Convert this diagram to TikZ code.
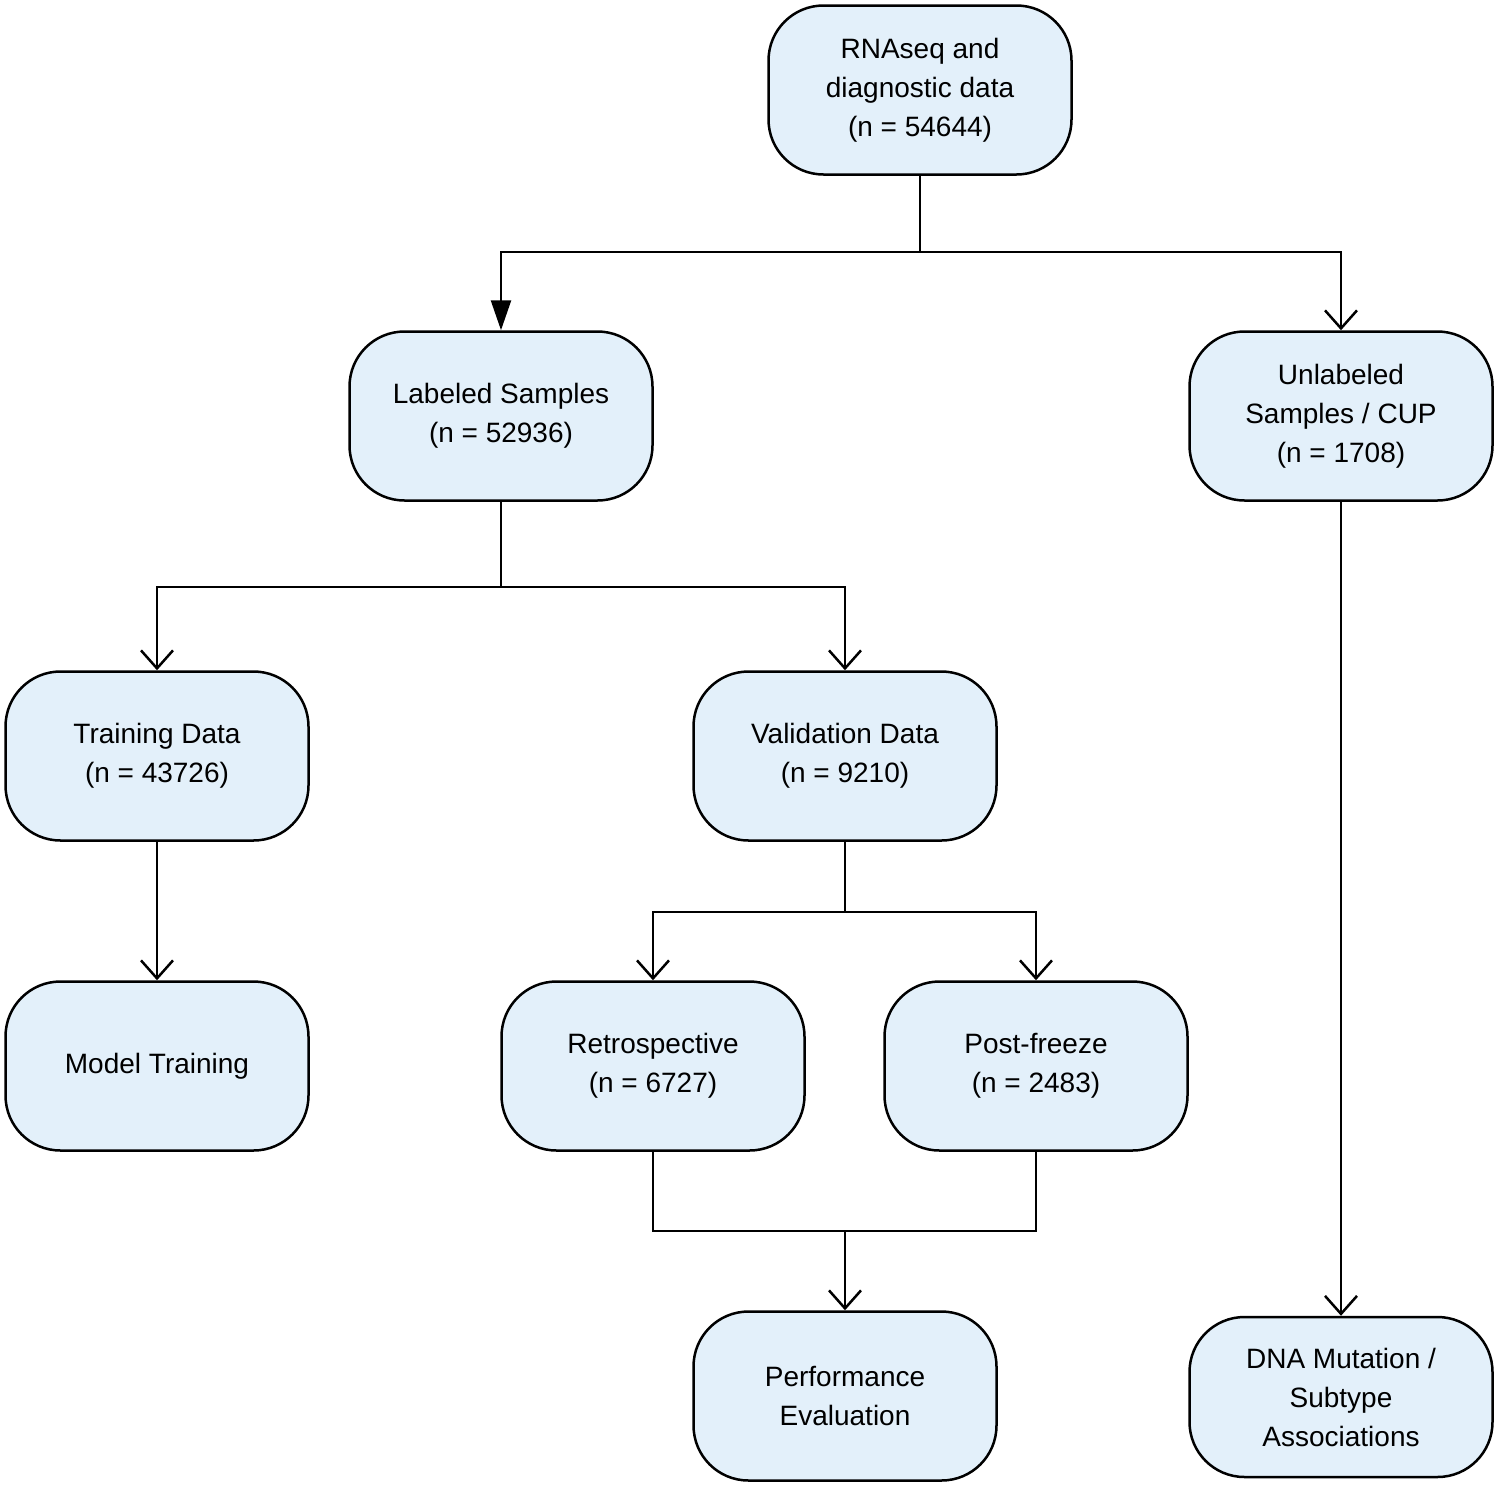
\documentclass[tikz,border=0pt]{standalone}
\usepackage{fontspec}
\setmainfont{Liberation Sans}
\usetikzlibrary{arrows.meta}
\definecolor{boxfill}{HTML}{E3F0FA}
\begin{document}
\begin{tikzpicture}[x=1pt,y=-1pt,
  box/.style={draw=black,line width=2.5pt,fill=boxfill,rounded corners=55pt,minimum width=303pt,minimum height=169pt,align=center,font=\fontsize{28}{39}\selectfont,inner sep=0pt},
  ln/.style={line width=2.5pt},
  va/.style={ln,-{Straight Barb[length=18pt,width=32pt,line width=2.5pt]}},
  fa/.style={ln,-{Triangle[length=30pt,width=20pt]}}]
\useasboundingbox (0,0) rectangle (1499,1489);
\node[box] (top) at (920,90) {RNAseq and\\diagnostic data\\(n = 54644)};
\node[box] (lab) at (501,416) {Labeled Samples\\(n = 52936)};
\node[box] (unl) at (1341,416) {Unlabeled\\Samples / CUP\\(n = 1708)};
\node[box] (tr) at (157,756) {Training Data\\(n = 43726)};
\node[box] (val) at (845,756) {Validation Data\\(n = 9210)};
\node[box] (mt) at (157,1066) {Model Training};
\node[box] (ret) at (653,1066) {Retrospective\\(n = 6727)};
\node[box] (pf) at (1036,1066) {Post-freeze\\(n = 2483)};
\node[box] (pe) at (845,1396) {Performance\\Evaluation};
\node[box,minimum height=160pt] (dna) at (1341,1397) {DNA Mutation /\\Subtype\\Associations};
\coordinate (j1) at (920,252);
\coordinate (j2) at (501,587);
\coordinate (j3) at (845,912);
\coordinate (j4) at (845,1231);
\draw[ln] (top) -- (j1);
\draw[fa] (j1) -| (lab);
\draw[va] (j1) -| (unl);
\draw[ln] (lab) -- (j2);
\draw[va] (j2) -| (tr);
\draw[va] (j2) -| (val);
\draw[va] (tr) -- (mt);
\draw[ln] (val) -- (j3);
\draw[va] (j3) -| (ret);
\draw[va] (j3) -| (pf);
\draw[ln] (ret.south) |- (j4) -| (pf.south);
\draw[va] (j4) -- (pe);
\draw[va] (unl) -- (dna);
\end{tikzpicture}
\end{document}
